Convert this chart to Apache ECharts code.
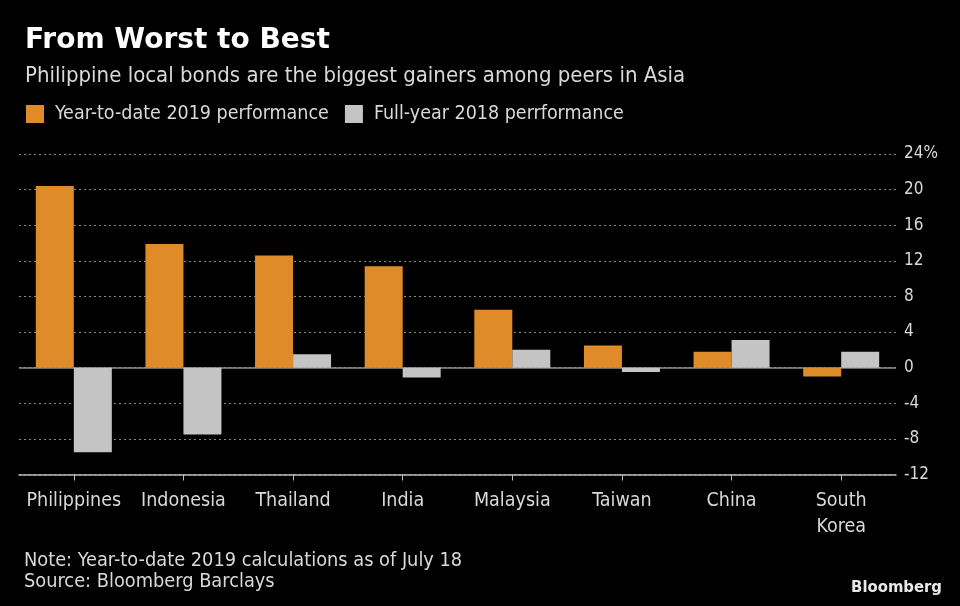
<!DOCTYPE html>
<html>
<head>
<meta charset="utf-8">
<script src="https://cdn.jsdelivr.net/npm/echarts@6/dist/echarts.min.js"></script>
<style>
html,body{margin:0;padding:0;background:#000;}
#chart{width:960px;height:606px;}
</style>
</head>
<body>
<div id="chart"></div>
<script>
const categories = ['Philippines', 'Indonesia', 'Thailand', 'India', 'Malaysia', 'Taiwan', 'China', 'South\nKorea'];
const ytd2019 = [20.4, 13.9, 12.6, 11.4, 6.5, 2.5, 1.8, -1.0];
const fy2018 = [-9.5, -7.5, 1.5, -1.1, 2.0, -0.5, 3.1, 1.8];
const yTicks = { min: -12, max: 24, interval: 4 };

const FONT = '"DejaVu Sans Condensed", "Liberation Sans Narrow", sans-serif';
const TXT = '#d9d9d9';
const ORANGE = '#e08b2a';
const GREY = '#c4c4c4';

const chart = echarts.init(document.getElementById('chart'));
chart.setOption({
  backgroundColor: '#000',
  animation: false,
  textStyle: { fontFamily: FONT },
  title: [
    { text: 'From Worst to Best', left: 20, top: 22,
      textStyle: { color: '#fff', fontSize: 28, fontWeight: 'bold', fontFamily: '"DejaVu Sans", sans-serif' } },
    { text: 'Philippine local bonds are the biggest gainers among peers in Asia', left: 20, top: 60,
      textStyle: { color: TXT, fontSize: 22, fontWeight: 'normal', fontFamily: FONT } },
    { text: 'Note: Year-to-date 2019 calculations as of July 18\nSource: Bloomberg Barclays', left: 19, top: 545,
      textStyle: { color: TXT, fontSize: 19.8, fontWeight: 'normal', lineHeight: 21.5, fontFamily: FONT } },
    { text: 'Bloomberg', right: 13, top: 574,
      textStyle: { color: '#e8e8e8', fontSize: 16.5, fontWeight: 'bold', fontFamily: FONT } }
  ],
  legend: {
    left: 21, top: 99,
    icon: 'rect', itemWidth: 18, itemHeight: 18, itemGap: 16,
    textStyle: { color: TXT, fontSize: 19.5, fontFamily: FONT, padding: [0, 0, 0, 6] },
    data: ['Year-to-date 2019 performance', 'Full-year 2018 perrformance']
  },
  grid: { left: 19, right: 64, top: 154, bottom: 131.5 },
  xAxis: {
    type: 'category',
    data: categories,
    axisLine: { onZero: false, lineStyle: { color: '#bdbdbd', width: 1.5 } },
    axisTick: { show: true, alignWithLabel: true, length: 6, lineStyle: { color: '#bdbdbd' } },
    axisLabel: { color: TXT, fontSize: 19.5, margin: 13, lineHeight: 26, interval: 0, fontFamily: FONT }
  },
  yAxis: {
    type: 'value', position: 'right',
    min: yTicks.min, max: yTicks.max, interval: yTicks.interval,
    axisLine: { show: false }, axisTick: { show: false },
    axisLabel: {
      color: TXT, fontSize: 17, margin: 8, fontFamily: FONT,
      formatter: v => v === yTicks.max ? v + '%' : String(v)
    },
    splitLine: {
      show: true,
      lineStyle: { color: '#8a8a8a', type: [2, 3], width: 1.2 }
    }
  },
  series: [
    {
      name: 'Year-to-date 2019 performance', type: 'bar', data: ytd2019,
      barWidth: 38, barGap: '0%', itemStyle: { color: ORANGE },
      markLine: {
        silent: true, symbol: 'none', label: { show: false },
        lineStyle: { color: '#8f8f8f', type: 'solid', width: 1.5 },
        data: [{ yAxis: 0 }], z: 1
      }
    },
    {
      name: 'Full-year 2018 perrformance', type: 'bar', data: fy2018,
      barWidth: 38, barGap: '0%', itemStyle: { color: GREY }
    }
  ]
});
</script>
</body>
</html>
